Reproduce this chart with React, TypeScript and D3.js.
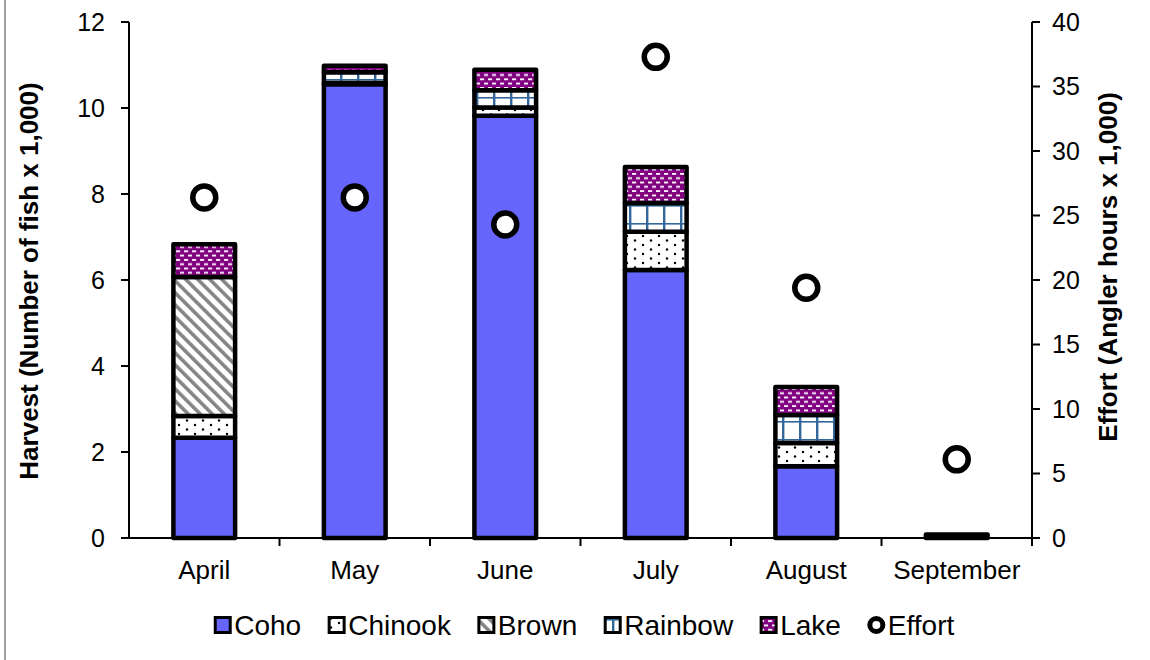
import React from "react";
import * as d3 from "d3";

// Monthly harvest by species (thousands of fish) and angler effort (thousands of hours)
const months = ["April", "May", "June", "July", "August", "September"];
const coho = [2.33, 10.55, 9.82, 6.23, 1.67, 0.08];
const chinook = [0.51, 0.03, 0.19, 0.89, 0.54, 0];
const brown = [3.23, 0, 0, 0, 0, 0];
const rainbow = [0, 0.25, 0.4, 0.67, 0.65, 0];
const lake = [0.76, 0.15, 0.48, 0.84, 0.65, 0];
const effort = [26.4, 26.4, 24.3, 37.3, 19.4, 6.1];

const species = ["Coho", "Chinook", "Brown", "Rainbow", "Lake"];
const leftTicks = [0, 2, 4, 6, 8, 10, 12];
const rightTicks = [0, 5, 10, 15, 20, 25, 30, 35, 40];

const W = 1150;
const H = 660;
const FONT = "'Liberation Sans', Arial, sans-serif";

const fills: Record<string, string> = {
  Coho: "#6666ff",
  Chinook: "url(#pat-chinook)",
  Brown: "url(#pat-brown)",
  Rainbow: "url(#pat-rainbow)",
  Lake: "url(#pat-lake)",
};

export default function App() {
  const plot = { left: 129, right: 1032, top: 22, bottom: 538 };

  const x = d3.scaleBand<string>().domain(months).range([plot.left, plot.right]).padding(0);
  const yL = d3.scaleLinear().domain([0, 12]).range([plot.bottom, plot.top]);
  const yR = d3.scaleLinear().domain([0, 40]).range([plot.bottom, plot.top]);

  const rows = months.map((m, i) => ({
    month: m,
    Coho: coho[i],
    Chinook: chinook[i],
    Brown: brown[i],
    Rainbow: rainbow[i],
    Lake: lake[i],
  }));
  const stacked = d3.stack<any>().keys(species)(rows);

  const bw = x.bandwidth();
  const barW = bw * 0.41;

  // legend layout from approximate glyph widths (em units)
  const legendFont = 28;
  const charW: Record<string, number> = {
    Coho: 2.39, Chinook: 3.668, Brown: 2.834, Rainbow: 3.89, Lake: 2.168, Effort: 2.39,
  };
  const legendItems = [...species, "Effort"];
  const sw = 15;
  const swGap = 4;
  const itemGap = 28;
  const widths = legendItems.map((k) => sw + swGap + charW[k] * legendFont);
  const totalW = d3.sum(widths) + itemGap * (legendItems.length - 1);
  let cursor = 585 - totalW / 2;
  const legendPos = widths.map((w) => {
    const p = cursor;
    cursor += w + itemGap;
    return p;
  });
  const legendY = 625;

  return (
    <svg
      width={W}
      height={H}
      style={{ position: "absolute", left: 0, top: 0, background: "#fff" }}
      fontFamily={FONT}
    >
      <defs>
        <pattern id="pat-chinook" patternUnits="userSpaceOnUse" width={16} height={9}>
          <rect width={16} height={9} fill="#fff" />
          <circle cx={3} cy={2} r={1.2} fill="#000" />
          <circle cx={11} cy={6.5} r={1.2} fill="#000" />
        </pattern>
        <pattern
          id="pat-brown"
          patternUnits="userSpaceOnUse"
          width={8.5}
          height={8.5}
          patternTransform="rotate(-45)"
        >
          <rect width={8.5} height={8.5} fill="#fff" />
          <rect x={0} y={0} width={3.6} height={8.5} fill="#858585" />
        </pattern>
        <pattern id="pat-rainbow" patternUnits="userSpaceOnUse" width={17} height={18}>
          <rect width={17} height={18} fill="#fff" />
          <rect x={0} y={0} width={2.4} height={18} fill="#336699" />
          <rect x={0} y={7} width={17} height={1.6} fill="#336699" />
        </pattern>
        <pattern id="pat-lake" patternUnits="userSpaceOnUse" width={8} height={8.6}>
          <rect width={8} height={8.6} fill="#800080" />
          <rect x={0} y={1} width={4.2} height={1.8} fill="#fff" />
          <rect x={4} y={5.3} width={4.2} height={1.8} fill="#fff" />
        </pattern>
      </defs>

      {/* outer chart frame */}
      <rect x={5} y={-10} width={W + 20} height={H + 20} fill="none" stroke="#a0a0a0" strokeWidth={2} />

      {/* stacked bars */}
      {stacked.map((layer) => (
        <g key={layer.key}>
          {layer.map((d, i) => {
            const v = d[1] - d[0];
            if (v <= 0) return null;
            const m = months[i];
            return (
              <rect
                key={m}
                x={(x(m) as number) + (bw - barW) / 2}
                y={yL(d[1])}
                width={barW}
                height={yL(d[0]) - yL(d[1])}
                fill={fills[layer.key]}
                stroke="#000"
                strokeWidth={4.5}
                strokeLinejoin="round"
              />
            );
          })}
        </g>
      ))}

      {/* x axis */}
      <line x1={plot.left} x2={plot.right} y1={plot.bottom} y2={plot.bottom} stroke="#000" strokeWidth={2} />
      {months.map((m, i) => (
        <g key={m}>
          {i > 0 && (
            <line
              x1={x(m) as number}
              x2={x(m) as number}
              y1={plot.bottom}
              y2={plot.bottom + 8}
              stroke="#000"
              strokeWidth={2}
            />
          )}
          <text
            x={(x(m) as number) + bw / 2}
            y={579}
            textAnchor="middle"
            fontSize={26}
            fill="#000"
          >
            {m}
          </text>
        </g>
      ))}
      <line x1={plot.right} x2={plot.right} y1={plot.bottom} y2={plot.bottom + 8} stroke="#000" strokeWidth={2} />

      {/* left axis */}
      <line x1={plot.left} x2={plot.left} y1={plot.top} y2={plot.bottom} stroke="#000" strokeWidth={2} />
      {leftTicks.map((t) => (
        <g key={t}>
          <line x1={plot.left - 8} x2={plot.left} y1={yL(t)} y2={yL(t)} stroke="#000" strokeWidth={2} />
          <text x={105} y={yL(t)} dy="0.35em" textAnchor="end" fontSize={25} fill="#000">
            {t}
          </text>
        </g>
      ))}
      <text
        transform={`translate(29, 281) rotate(-90)`}
        textAnchor="middle"
        dy="0.35em"
        fontSize={26}
        fontWeight="bold"
        fill="#000"
      >
        Harvest (Number of fish x 1,000)
      </text>

      {/* right axis */}
      <line x1={plot.right} x2={plot.right} y1={plot.top} y2={plot.bottom} stroke="#000" strokeWidth={2} />
      {rightTicks.map((t) => (
        <g key={t}>
          <line x1={plot.right} x2={plot.right + 8} y1={yR(t)} y2={yR(t)} stroke="#000" strokeWidth={2} />
          <text x={1052} y={yR(t)} dy="0.35em" textAnchor="start" fontSize={25} fill="#000">
            {t}
          </text>
        </g>
      ))}
      <text
        transform={`translate(1108, 267) rotate(-90)`}
        textAnchor="middle"
        dy="0.35em"
        fontSize={26}
        fontWeight="bold"
        fill="#000"
      >
        Effort (Angler hours x 1,000)
      </text>

      {/* effort markers */}
      {effort.map((e, i) => (
        <circle
          key={months[i]}
          cx={(x(months[i]) as number) + bw / 2}
          cy={yR(e)}
          r={11.5}
          fill="#fff"
          stroke="#000"
          strokeWidth={5.5}
        />
      ))}

      {/* legend */}
      {legendItems.map((k, i) => {
        const lx = legendPos[i];
        return (
          <g key={k}>
            {k === "Effort" ? (
              <circle cx={lx + sw / 2} cy={legendY} r={6.5} fill="#fff" stroke="#000" strokeWidth={5} />
            ) : (
              <rect
                x={lx}
                y={legendY - sw / 2}
                width={sw}
                height={sw}
                fill={fills[k]}
                stroke="#000"
                strokeWidth={3}
              />
            )}
            <text x={lx + sw + swGap} y={legendY} dy="0.35em" fontSize={legendFont} fill="#000">
              {k}
            </text>
          </g>
        );
      })}
    </svg>
  );
}
